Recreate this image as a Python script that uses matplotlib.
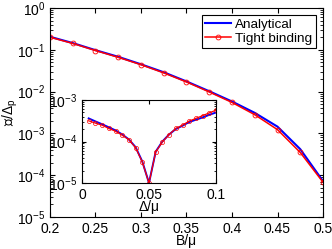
import numpy as np
import matplotlib
matplotlib.use("Agg")
import matplotlib.pyplot as plt

plt.rcParams['font.family'] = ['Liberation Sans', 'DejaVu Sans']
plt.rcParams['mathtext.fontset'] = 'custom'
plt.rcParams['mathtext.rm'] = 'Liberation Sans'
plt.rcParams['mathtext.it'] = 'Liberation Sans:italic'

# main panel: energy vs B/mu
B = [0.2, 0.225, 0.25, 0.275, 0.3, 0.325, 0.35, 0.375, 0.4, 0.425, 0.45, 0.475, 0.5]
E_analytic = [0.205, 0.145, 0.098, 0.068, 0.045, 0.029, 0.0175, 0.0102, 0.0058, 0.0031, 0.00145, 4.2e-4, 7.2e-5]
E_tight = [0.20, 0.142, 0.096, 0.066, 0.044, 0.028, 0.017, 0.0098, 0.0055, 0.0028, 0.00123, 3.5e-4, 6.8e-5]

# inset: energy vs Delta/mu
D = [0.005, 0.01, 0.015, 0.02, 0.025, 0.03, 0.035, 0.04, 0.045, 0.05,
     0.055, 0.06, 0.065, 0.07, 0.075, 0.08, 0.085, 0.09, 0.095, 0.1]
Ein_analytic = [3.6e-4, 3.05e-4, 2.6e-4, 2.2e-4, 1.85e-4, 1.48e-4, 1.12e-4, 7.3e-5, 3.3e-5, 1.0e-5,
                5.7e-5, 1.0e-4, 1.48e-4, 2.0e-4, 2.4e-4, 2.95e-4, 3.35e-4, 3.8e-4, 4.4e-4, 5.0e-4]
Ein_tight = [3.15e-4, 2.77e-4, 2.47e-4, 2.06e-4, 1.77e-4, 1.42e-4, 1.11e-4, 7.1e-5, 3.2e-5, 1.0e-5,
             5.6e-5, 9.8e-5, 1.47e-4, 2.06e-4, 2.47e-4, 3.1e-4, 3.6e-4, 4.2e-4, 4.9e-4, 5.7e-4]

FS = 10

fig = plt.figure(figsize=(3.32, 2.49), dpi=100)
W, H = 332, 249
ax = fig.add_axes([50 / W, 1 - 217 / H, 273 / W, 209 / H])

ax.semilogy(B, E_analytic, color='#0000ff', lw=1.5, label='Analytical')
ax.semilogy(B, E_tight, color='#ff0000', lw=1.1, marker='o', ms=3.5, mfc='none', mew=0.6,
            label='Tight binding')
ax.set_xlim(0.2, 0.5)
ax.set_ylim(1e-5, 1)
ax.set_xticks([0.2, 0.25, 0.3, 0.35, 0.4, 0.45, 0.5])
ax.set_xticklabels(['0.2', '0.25', '0.3', '0.35', '0.4', '0.45', '0.5'])
ax.tick_params(which='both', direction='in', top=True, right=True, labelsize=FS)
ax.tick_params(which='major', length=3.5)
ax.tick_params(which='minor', length=2)
ax.set_xlabel('B/μ', fontsize=FS, labelpad=-1)
ax.set_ylabel(r'ℰ/$\Delta_{\rm p}$', fontsize=FS)
ax.yaxis.set_label_coords(-0.11, 0.5)
for s in ax.spines.values():
    s.set_linewidth(0.8)
leg = ax.legend(loc='upper right', fontsize=9.7, fancybox=False, edgecolor='black',
                framealpha=1, handlelength=1.9, borderpad=0.25, labelspacing=0.1,
                handletextpad=0.3, borderaxespad=0.55)
leg.get_frame().set_linewidth(0.8)

# inset
ins = fig.add_axes([82 / W, 1 - 183 / H, 134 / W, 83 / H])
ins.semilogy(D, Ein_analytic, color='#0000ff', lw=1.4)
ins.semilogy(D, Ein_tight, color='#ff0000', lw=0.9, marker='o', ms=3, mfc='none', mew=0.5)
ins.set_xlim(0, 0.1)
ins.set_ylim(1e-5, 1e-3)
ins.set_xticks([0, 0.05, 0.1])
ins.set_xticklabels(['0', '0.05', '0.1'])
ins.tick_params(which='both', direction='in', top=True, right=True, labelsize=FS)
ins.tick_params(which='major', length=3)
ins.tick_params(which='minor', length=1.5)
ins.set_xlabel('Δ/μ', fontsize=FS, labelpad=-1)
for s in ins.spines.values():
    s.set_linewidth(0.8)

fig.savefig('out.png', dpi=100)
